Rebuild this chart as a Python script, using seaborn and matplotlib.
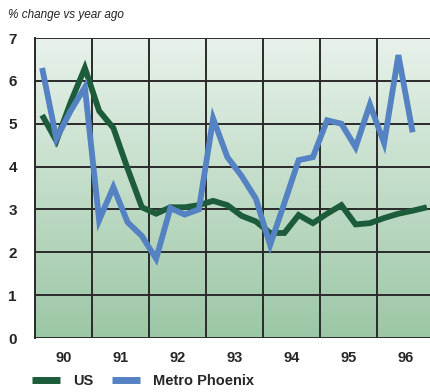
import numpy as np
import pandas as pd
import matplotlib
matplotlib.use("Agg")
import matplotlib.pyplot as plt
import seaborn as sns
from matplotlib.lines import Line2D

# Quarterly % change vs year ago, 1990 Q1 onward
us = [5.2, 4.6, 5.5, 6.3, 5.3, 4.9, 3.95, 3.05, 2.9, 3.05, 3.05, 3.1,
      3.2, 3.1, 2.85, 2.72, 2.45, 2.45, 2.87, 2.68, 2.9, 3.1, 2.65, 2.68,
      2.8, 2.9, 2.97, 3.05]
phoenix = [6.3, 4.65, 5.3, 5.85, 2.75, 3.52, 2.7, 2.38, 1.85, 3.03, 2.88, 3.0,
           5.12, 4.22, 3.78, 3.25, 2.17, 3.15, 4.15, 4.22, 5.08, 5.0, 4.45, 5.45,
           4.55, 6.6, 4.8]
year_labels = ["90", "91", "92", "93", "94", "95", "96"]
series_names = ["US", "Metro Phoenix"]
series_colors = ["#1d5c3a", "#5482c2"]

rows = []
for name, vals in zip(series_names, [us, phoenix]):
    for i, v in enumerate(vals):
        rows.append({"t": 1990 + (i + 0.5) / 4, "value": v, "series": name})
df = pd.DataFrame(rows)

sns.set_style("white")
plt.rcParams["font.family"] = ["Liberation Sans Narrow", "Liberation Sans", "DejaVu Sans"]

fig = plt.figure(figsize=(4.30, 3.92), dpi=100)
ax = fig.add_axes([35 / 430, 54 / 392, 1 - 35 / 430, 300 / 392])

# vertical gradient background
grad = np.linspace(0, 1, 256)[:, None]
top = np.array([0.91, 0.95, 0.92])
bot = np.array([0.61, 0.78, 0.65])
img = top[None, None, :] * (1 - grad[:, :, None]) + bot[None, None, :] * grad[:, :, None]
ax.imshow(img, extent=[0, 1, 0, 1], transform=ax.transAxes, aspect="auto", zorder=0)

sns.lineplot(data=df, x="t", y="value", hue="series", palette=series_colors,
             linewidth=4.2, ax=ax, legend=False, zorder=3, sort=False,
             solid_capstyle="butt", solid_joinstyle="miter")

ax.set_xlim(1990, 1990 + 395 / 57)
ax.set_ylim(0, 7)

# grid
for y in range(0, 8):
    ax.axhline(y, color="#2a2a2a", lw=1.4, zorder=2)
for yr in range(1990, 1997):
    ax.axvline(yr, color="#2a2a2a", lw=1.4, zorder=2)

for s in ["top", "right", "bottom"]:
    ax.spines[s].set_visible(False)
ax.spines["left"].set_color("#2a2a2a")
ax.spines["left"].set_linewidth(1.4)

ax.set_yticks(range(0, 8))
ax.set_yticklabels([str(v) for v in range(0, 8)], fontsize=11, fontweight="bold")
ax.tick_params(axis="y", length=3, width=1.4, color="#2a2a2a", pad=10)

ax.set_xticks([1990 + k for k in range(7)])
ax.set_xticklabels([])
ax.tick_params(axis="x", which="major", length=10, width=1.4, color="#2a2a2a")
ax.set_xticks([1990.5 + k for k in range(7)], minor=True)
ax.set_xticklabels(year_labels, minor=True, fontsize=10.5, fontweight="bold")
ax.tick_params(axis="x", which="minor", length=0, pad=9)
ax.set_xlabel("")
ax.set_ylabel("")

fig.text(8 / 430, 1 - 15 / 392, "% change vs year ago", fontsize=8.5,
         style="italic", color="#222222", va="center", ha="left")

handles = [Line2D([0], [0], color=c, lw=5, solid_capstyle="butt") for c in series_colors]
fig.legend(handles, series_names, loc="center left",
           bbox_to_anchor=(32 / 430, 1 - 381 / 392), ncol=2, frameon=False,
           prop={"size": 10.5, "weight": "bold"}, handlelength=1.9,
           handletextpad=0.9, columnspacing=1.3, borderaxespad=0, borderpad=0)

fig.savefig("out.png", dpi=100)
